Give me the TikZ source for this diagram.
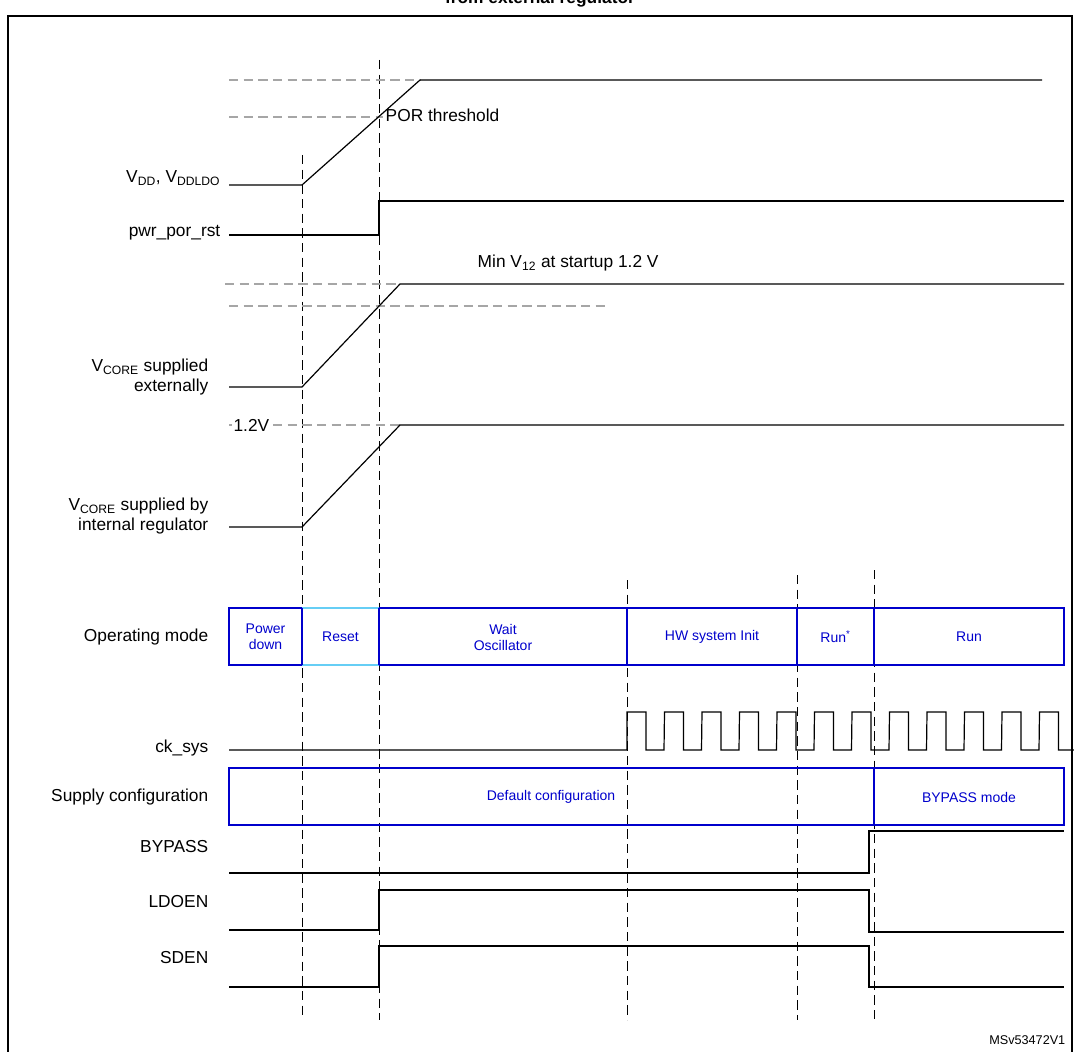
\documentclass[tikz,border=0pt]{standalone}
\usepackage{fontspec}
\setmainfont{Liberation Sans}
\begin{document}
\begin{tikzpicture}[x=0.75pt,y=-0.75pt,
  sig/.style={black,line width=0.9pt},
  vd/.style={black,dashed,dash pattern=on 7pt off 4pt,line width=0.7pt},
  gd/.style={gray!70,dashed,dash pattern=on 7pt off 4pt,line width=0.8pt},
  lab/.style={anchor=east,font=\fontsize{13}{15.5}\selectfont,align=right},
  box/.style={draw=blue!80!black,line width=0.8pt},
  btxt/.style={text=blue!80!black,font=\fontsize{10.5}{12}\selectfont,align=center}]
\useasboundingbox (0,0) rectangle (1074,1052);
\node[font=\bfseries\fontsize{13}{15}\selectfont,anchor=south] (title) at (540,12) {from external regulator};
\draw[line width=1.2pt] (8,1060) -- (8,16) -- (1072,16) -- (1072,1060);
% vertical dashed
\draw[vd] (302,155) -- (302,1020);
\draw[vd] (379,60) -- (379,1020);
\draw[vd] (627,580) -- (627,1020);
\draw[vd] (797,575) -- (797,1020);
\draw[vd] (874,570) -- (874,1020);
% VDD
\node[lab] (lvdd) at (225,178) {V\textsubscript{DD}, V\textsubscript{DDLDO}};
\draw[gd] (229,80) -- (420,80);
\draw[gd] (229,117) -- (383,117);
\node[anchor=west,font=\fontsize{13}{15}\selectfont] (por) at (381,115) {POR threshold};
\draw[sig] (229,185) -- (302,185) -- (420,80) -- (1042,80);
% pwr_por_rst
\node[lab] (lpor) at (225,233) {pwr\_por\_rst};
\draw[sig] (229,235) -- (379,235) -- (379,201) -- (1064,201);
% Vcore ext
\node[anchor=west,font=\fontsize{13}{15}\selectfont] (minv) at (473,263) {Min V\textsubscript{12} at startup 1.2 V};
\draw[gd] (225,284) -- (400,284);
\draw[gd] (229,306) -- (610,306);
\node[lab] (lext) at (213,377) {V\textsubscript{CORE} supplied\\externally};
\draw[sig] (229,387) -- (302,387) -- (400,284) -- (1064,284);
% Vcore int
\draw[gd] (229,425) -- (400,425);
\node[anchor=west,fill=white,inner sep=1pt,font=\fontsize{13}{15}\selectfont] (v12) at (232,425) {1.2V};
\node[lab] (lint) at (213,516) {V\textsubscript{CORE} supplied by\\internal regulator};
\draw[sig] (229,527) -- (302,527) -- (400,425) -- (1064,425);
% Operating mode
\node[lab] (lop) at (213,637) {Operating mode};
\draw[box] (229,608) rectangle (1064,665);
\draw[cyan!60,line width=0.8pt] (302,608) -- (379,608) (302,665) -- (379,665);
\foreach \x in {302,379,627,797,874} \draw[box] (\x,608) -- (\x,665);
\node[btxt] (m1) at (265.5,637) {Power\\down};
\node[btxt] (m2) at (340.5,637) {Reset};
\node[btxt] (m3) at (503,637) {Wait\\Oscillator};
\node[btxt] (m4) at (712,637) {HW system Init};
\node[btxt] (m5) at (835.5,637) {Run\textsuperscript{*}};
\node[btxt] (m6) at (969,637) {Run};
% ck_sys
\node[lab] (lck) at (213,748) {ck\_sys};
\draw[sig] (229,750) -- (627,750)
  \foreach \k in {0,...,11} { -- ({627+37.5*\k},712) -- ({646+37.5*\k},712) -- ({646+37.5*\k},750) -- ({664+37.5*\k},750) }
  -- (1077,712);
% supply config
\node[lab] (lsup) at (213,797) {Supply configuration};
\draw[box] (229,768) rectangle (1064,825);
\draw[box] (874,768) -- (874,825);
\node[btxt] (s1) at (551,797) {Default configuration};
\node[btxt] (s2) at (969,797) {BYPASS mode};
% BYPASS
\node[lab] (lby) at (213,847) {BYPASS};
\draw[sig] (229,873) -- (869,873) -- (869,831) -- (1064,831);
\node[lab] (lld) at (213,902) {LDOEN};
\draw[sig] (229,930) -- (379,930) -- (379,890) -- (869,890) -- (869,932) -- (1064,932);
\node[lab] (lsd) at (213,958) {SDEN};
\draw[sig] (229,987) -- (379,987) -- (379,946) -- (869,946) -- (869,987) -- (1064,987);
\node[anchor=east,font=\fontsize{9.5}{10}\selectfont] (id) at (1070,1040) {MSv53472V1};
\end{tikzpicture}
\end{document}
